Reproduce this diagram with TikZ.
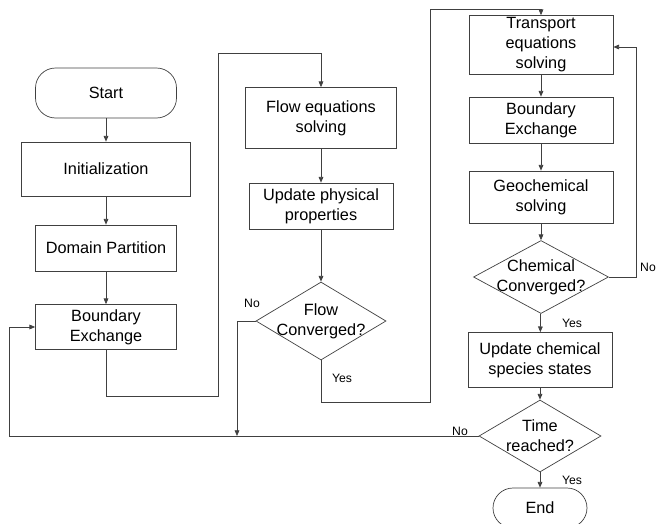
\documentclass[tikz,border=0pt]{standalone}
\usepackage{fontspec}
\setmainfont{Liberation Sans}
\usepackage{tikz}
\usetikzlibrary{shapes.geometric,arrows.meta}

\begin{document}
\begin{tikzpicture}[x=0.03cm,y=-0.03cm,
    line width=0.6pt, draw=black!75,
    every node/.style={font=\fontsize{13.9}{17}\selectfont, align=center},
    procbox/.style={draw=black!75, rectangle, inner sep=0pt},
    termbox/.style={draw=black!75, rectangle, rounded corners=20*\px, inner sep=0pt},
    decbox/.style={draw=black!75, diamond, inner sep=0pt},
    tag/.style={font=\fontsize{10.4}{12}\selectfont, inner sep=1pt},
    arr/.style={-{Triangle[length=1.7mm,width=1.4mm]}}]
    %
    % Independent parameters
    \def\px{0.03cm}                                          % one pixel of the layout
    %
    \useasboundingbox (0,0) rectangle (661,523);
    %
    % left column
    \node[termbox, minimum width=141*\px, minimum height=50*\px] (start) at (106,93) {Start};
    \node[procbox, minimum width=169*\px, minimum height=54*\px] (init) at (106,169) {Initialization};
    \node[procbox, minimum width=141*\px, minimum height=46*\px] (part) at (106,248) {Domain Partition};
    \node[procbox, minimum width=141*\px, minimum height=45*\px] (bexA) at (106,327) {Boundary\\Exchange};
    %
    % middle column
    \node[procbox, minimum width=151*\px, minimum height=61*\px] (flow) at (321,118) {Flow equations\\solving};
    \node[procbox, minimum width=144*\px, minimum height=46*\px] (phys) at (321,206) {Update physical\\properties};
    \node[decbox, minimum width=130*\px, minimum height=78*\px,
          label={[align=center]center:Flow\\Converged?}] (flowConv) at (321,321) {};
    %
    % right column
    \node[procbox, minimum width=144*\px, minimum height=59*\px] (trans) at (541,45) {Transport\\equations\\solving};
    \node[procbox, minimum width=144*\px, minimum height=46*\px] (bexB) at (541,120) {Boundary\\Exchange};
    \node[procbox, minimum width=144*\px, minimum height=52*\px] (geo) at (541,197) {Geochemical\\solving};
    \node[decbox, minimum width=135*\px, minimum height=73*\px,
          label={[align=center]center:Chemical\\Converged?}] (chemConv) at (541,277) {};
    \node[procbox, minimum width=144*\px, minimum height=55*\px] (species) at (540,360) {Update chemical\\species states};
    \node[decbox, minimum width=122*\px, minimum height=72*\px,
          label={[align=center]center:Time\\reached?}] (timeDec) at (540,436) {};
    \node[termbox, minimum width=94*\px, minimum height=40*\px] (end) at (540,508) {End};
    %
    % routing points
    \coordinate (bendA) at (218,396);
    \coordinate (bendB) at (218,53);
    \coordinate (flowNo) at (237,321);
    \coordinate (join) at (237,436);
    \coordinate (bendC) at (430,402);
    \coordinate (bendD) at (430,9);
    \coordinate (chemNo) at (636,277);
    \coordinate (timeNo) at (9,436);
    %
    % straight connectors
    \draw[arr] (start) -- (init);
    \draw[arr] (init) -- (part);
    \draw[arr] (part) -- (bexA);
    \draw[arr] (flow) -- (phys);
    \draw[arr] (phys) -- (flowConv);
    \draw[arr] (trans) -- (bexB);
    \draw[arr] (bexB) -- (geo);
    \draw[arr] (geo) -- (chemConv);
    \draw[arr] (chemConv) -- (species);
    \draw[arr] (species) -- (timeDec);
    \draw[arr] (timeDec) -- (end);
    %
    % bent connectors
    \draw[arr] (bexA.south) |- (bendA) -- (bendB) -| (flow.north);
    \draw[arr] (flowConv.west) -- (flowNo) -- (join);
    \draw[arr] (flowConv.south) |- (bendC) -- (bendD) -| (trans.north);
    \draw[arr] (chemConv.east) -- (chemNo) |- ([yshift=-2*\px]trans.east);
    \draw[arr] (timeDec.west) -- (timeNo) |- (bexA.west);
    %
    % branch labels
    \node[tag] (noFlow) at (252,303) {No};
    \node[tag] (yesFlow) at (342,378) {Yes};
    \node[tag] (noChem) at (648,267) {No};
    \node[tag] (yesChem) at (572,323) {Yes};
    \node[tag] (noTime) at (460,431) {No};
    \node[tag] (yesTime) at (572,480) {Yes};
\end{tikzpicture}
\end{document}
